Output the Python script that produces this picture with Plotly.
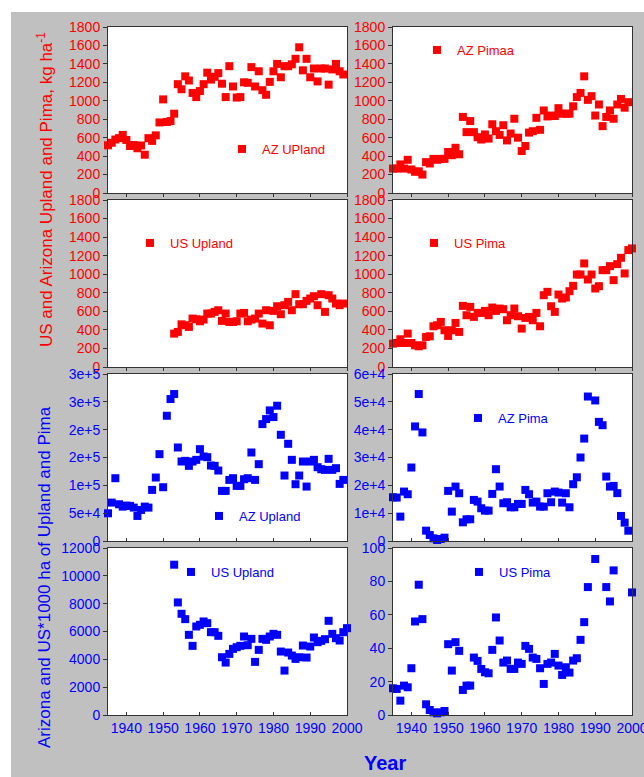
import plotly.graph_objects as go

# ---------------------------------------------------------------------------
# Data: lint yield (kg/ha) and harvested area for Arizona and US cotton
# ---------------------------------------------------------------------------
az_upland_yield_years = list(range(1935, 2000))
az_upland_yield = [517, 545, 580, 595, 630, 575, 510, 520, 485, 515, 415,
                   595, 565, 625, 765, 1015, 770, 780, 860, 1180, 1125,
                   1265, 1220, 1085, 1040, 1105, 1180, 1305, 1230, 1260, 1300,
                   1185, 1040, 1375, 1155, 1035, 1040, 1200, 1195, 1365, 1155,
                   1320, 1115, 1065, 1205, 1320, 1400, 1255, 1375, 1375, 1395,
                   1455, 1580, 1330, 1455, 1255, 1350, 1210, 1350, 1350, 1175,
                   1340, 1400, 1320, 1285]

az_pima_yield_years = list(range(1935, 2000))
az_pima_yield = [265, 265, 310, 265, 360, 255, 230, 235, 200, 335, 320,
                 370, 360, 370, 370, 445, 410, 490, 420, 825, 660,
                 780, 660, 605, 580, 635, 590, 745, 670, 630, 735,
                 570, 645, 805, 600, 455, 510, 655, 670, 815, 685,
                 895, 830, 840, 835, 920, 860, 860, 860, 940, 1040,
                 1085, 1265, 1010, 1050, 840, 960, 725, 825, 895, 805,
                 960, 1020, 925, 985]

us_upland_yield_years = list(range(1953, 2000))
us_upland_yield = [360, 378, 460, 450, 432, 522, 515, 493, 511, 576,
                   576, 594, 612, 497, 576, 486, 486, 493, 576, 583,
                   493, 511, 522, 576, 468, 612, 450, 605, 655, 569,
                   666, 702, 612, 785, 677, 677, 713, 738, 763, 666,
                   785, 594, 774, 738, 684, 666, 684]

us_pima_yield_years = list(range(1935, 2001))
us_pima_yield = [252, 259, 299, 259, 360, 259, 234, 223, 234, 324, 331,
                 439, 450, 486, 396, 335, 396, 475, 378, 659, 558,
                 648, 540, 583, 583, 605, 558, 641, 605, 630, 623,
                 504, 558, 630, 547, 414, 529, 540, 504, 583, 439,
                 774, 810, 655, 594, 781, 738, 749, 817, 875, 997,
                 997, 1116, 943, 997, 846, 871, 1044, 1044, 1087, 936,
                 1109, 1177, 1008, 1260, 1278]

az_upland_area_years = list(range(1935, 2000))
az_upland_area = [49800, 69000, 112800, 66000, 61800, 63600, 63000, 60000,
                  45000, 55800, 61800, 60000, 91800, 114000, 156000, 96600,
                  225000, 255000, 264000, 168000, 142800, 144000, 135000,
                  142800, 145800, 165000, 151800, 150600, 135600, 135000,
                  126600, 90000, 90000, 109800, 112800, 99000, 99000, 111000,
                  112800, 159000, 109800, 138000, 210000, 219000, 234600,
                  222600, 243000, 190800, 117600, 174600, 145800, 102000,
                  117600, 142800, 97800, 142800, 145800, 132600, 129000,
                  127800, 147600, 127800, 130800, 102600, 109800]

az_pima_area_years = list(range(1935, 1989)) + list(range(1990, 2000))
az_pima_area = [15720, 15600, 8760, 17760, 16800, 26400, 41160, 52800, 39000,
                3720, 2160, 960, 360, 720, 1200, 18000, 10560, 19560, 17160,
                6720, 7800, 7800, 14760, 14160, 11760, 10920, 10920, 16920,
                25800, 19560, 13560, 13920, 12120, 12120, 13320, 13320, 18360,
                16800, 13800, 14160, 12360, 12360, 17160, 13920, 17760, 17400,
                13800, 17160, 12120, 20400, 22900, 30000, 36800, 51900,
                50500, 42800, 41600, 23150, 19550, 19800, 17200, 9000, 6600,
                3700]

us_upland_area_years = list(range(1953, 2001))
us_upland_area = [10800, 8088, 7272, 6888, 5760, 4968, 6360, 6480, 6720,
                  6600, 5952, 5952, 5688, 4152, 3768, 4392, 4752, 4872, 4968,
                  5640, 5016, 5472, 3816, 4680, 5472, 5400, 5640, 5832, 5760,
                  4560, 3192, 4488, 4272, 4032, 4152, 4992, 4128, 4920, 5568,
                  5232, 5328, 5448, 6768, 5832, 5520, 5352, 5952, 6240]

us_pima_area_years = list(range(1935, 1989)) + [1990, 1993, 1994, 1995, 2000]
us_pima_area = [16, 15.6, 8.6, 17.6, 16.6, 28, 56, 78, 57.4, 6.4, 3, 1.6, 1,
                1.6, 2.4, 42.4, 26.6, 43.6, 38.4, 15, 17.6, 17.6, 34.4, 32.4,
                27.6, 25.6, 25, 39, 58.4, 44.6, 31.4, 32.6, 27.6, 27.6, 31.4,
                30.6, 41.4, 39.6, 34.4, 33.6, 28, 18.6, 30.6, 31.4, 36.6,
                29.6, 24, 28.6, 25.4, 32.6, 34, 45, 55.6, 76.6,
                93.4, 76.6, 68, 86.6, 73.4]

# Axis ticks
year_ticks = [1940, 1950, 1960, 1970, 1980, 1990, 2000]
yield_ticks = [0, 200, 400, 600, 800, 1000, 1200, 1400, 1600, 1800]
az_upland_area_ticks = [0, 50000, 100000, 150000, 200000, 250000, 300000]
az_upland_area_labels = ["0", "5e+4", "1e+5", "2e+5", "2e+5", "3e+5", "3e+5"]
az_pima_area_ticks = [0, 10000, 20000, 30000, 40000, 50000, 60000]
az_pima_area_labels = ["0", "1e+4", "2e+4", "3e+4", "4e+4", "5e+4", "6e+4"]
us_upland_area_ticks = [0, 2000, 4000, 6000, 8000, 10000, 12000]
us_pima_area_ticks = [0, 20, 40, 60, 80, 100]

# ---------------------------------------------------------------------------
# Layout helpers (pixel -> paper coordinates)
# ---------------------------------------------------------------------------
W, H = 644, 777
RED = "#FF0000"
BLUE = "#0000FF"
GRAY = "#C0C0C0"
AXIS = "#333333"
FONT = "Liberation Sans, Arial, Helvetica, sans-serif"


def fx(p):
    return p / W


def fy(p):
    return 1 - p / H


col_px = [(108, 347), (393, 632)]
row_px = [(27, 193), (200, 367), (374, 541), (548, 715)]

panels = [
    dict(name="AZ UPland", x=az_upland_yield_years, y=az_upland_yield,
         row=0, col=0, color=RED, yrange=[0, 1800], tv=yield_ticks, tt=None,
         leg=(222, 149)),
    dict(name="AZ Pimaa", x=az_pima_yield_years, y=az_pima_yield,
         row=0, col=1, color=RED, yrange=[0, 1800], tv=yield_ticks, tt=None,
         leg=(417, 50)),
    dict(name="US Upland", x=us_upland_yield_years, y=us_upland_yield,
         row=1, col=0, color=RED, yrange=[0, 1800], tv=yield_ticks, tt=None,
         leg=(130, 243)),
    dict(name="US Pima", x=us_pima_yield_years, y=us_pima_yield,
         row=1, col=1, color=RED, yrange=[0, 1800], tv=yield_ticks, tt=None,
         leg=(414, 243)),
    dict(name="AZ Upland", x=az_upland_area_years, y=az_upland_area,
         row=2, col=0, color=BLUE, yrange=[0, 300000],
         tv=az_upland_area_ticks, tt=az_upland_area_labels, leg=(199, 516)),
    dict(name="AZ Pima", x=az_pima_area_years, y=az_pima_area,
         row=2, col=1, color=BLUE, yrange=[0, 60000],
         tv=az_pima_area_ticks, tt=az_pima_area_labels, leg=(458, 418)),
    dict(name="US Upland", x=us_upland_area_years, y=us_upland_area,
         row=3, col=0, color=BLUE, yrange=[0, 12000],
         tv=us_upland_area_ticks, tt=None, leg=(171, 572)),
    dict(name="US Pima", x=us_pima_area_years, y=us_pima_area,
         row=3, col=1, color=BLUE, yrange=[0, 100],
         tv=us_pima_area_ticks, tt=None, leg=(459, 572)),
]

fig = go.Figure()
layout = dict(
    width=W, height=H, autosize=False,
    margin=dict(l=0, r=0, t=0, b=0, pad=0),
    paper_bgcolor=GRAY,
    plot_bgcolor="white",
    font=dict(family=FONT, size=14),
    showlegend=True,
)

for i, p in enumerate(panels, start=1):
    sfx = "" if i == 1 else str(i)
    leg_id = "legend" + sfx
    fig.add_trace(go.Scatter(
        x=p["x"], y=p["y"], mode="markers", name=p["name"],
        marker=dict(symbol="square", size=8, color=p["color"]),
        cliponaxis=False,
        xaxis="x" + sfx, yaxis="y" + sfx,
        legend=leg_id,
    ))
    x0, x1 = col_px[p["col"]]
    y0, y1 = row_px[p["row"]]
    bottom_row = p["row"] == 3
    layout["xaxis" + sfx] = dict(
        domain=[fx(x0), fx(x1)], range=[1935, 2000], anchor="y" + sfx,
        automargin=False, ticklabeloverflow="allow",
        tickvals=year_ticks, showticklabels=bottom_row, tickformat="d",
        ticks="inside" if p["row"] >= 2 else "outside", ticklen=3,
        tickcolor=AXIS, showgrid=False, zeroline=False,
        showline=True, mirror=True, linecolor=AXIS, linewidth=1,
        tickfont=dict(color=BLUE, size=14),
    )
    yax = dict(
        domain=[fy(y1), fy(y0)], range=p["yrange"], anchor="x" + sfx,
        automargin=False, ticklabeloverflow="allow",
        tickvals=p["tv"], tickformat="d", ticks="outside", ticklen=4,
        tickcolor=AXIS, showgrid=False, zeroline=False,
        showline=True, mirror=True, linecolor=AXIS, linewidth=1,
        tickfont=dict(color=p["color"], size=14),
    )
    if p["tt"] is not None:
        yax["ticktext"] = p["tt"]
    layout["yaxis" + sfx] = yax
    lx, ly = p["leg"]
    layout[leg_id] = dict(
        x=fx(lx), y=fy(ly), xanchor="left", yanchor="middle",
        bgcolor="rgba(0,0,0,0)", borderwidth=0,
        font=dict(color=p["color"], size=13, family=FONT),
    )

layout["shapes"] = [
    dict(type="rect", xref="paper", yref="paper", x0=0, x1=1,
         y0=fy(12), y1=1, fillcolor="white", line=dict(width=0),
         layer="below"),
    dict(type="rect", xref="paper", yref="paper", x0=0, x1=fx(11),
         y0=0, y1=1, fillcolor="white", line=dict(width=0), layer="below"),
]

layout["annotations"] = [
    dict(text="US and Arizona Upland and Pima, kg ha<sup>-1</sup>",
         x=fx(45), y=fy(190), xref="paper", yref="paper", textangle=-90,
         showarrow=False, xanchor="center", yanchor="middle",
         font=dict(color=RED, size=17, family=FONT)),
    dict(text="Arizona and US*1000 ha of Upland and Pima",
         x=fx(44), y=fy(577), xref="paper", yref="paper", textangle=-90,
         showarrow=False, xanchor="center", yanchor="middle",
         font=dict(color=BLUE, size=17, family=FONT)),
    dict(text="<b>Year</b>", x=fx(385), y=fy(763), xref="paper",
         yref="paper", showarrow=False, xanchor="center", yanchor="middle",
         font=dict(color=BLUE, size=20, family=FONT)),
]

fig.update_layout(**layout)
fig.write_html("out.html")
